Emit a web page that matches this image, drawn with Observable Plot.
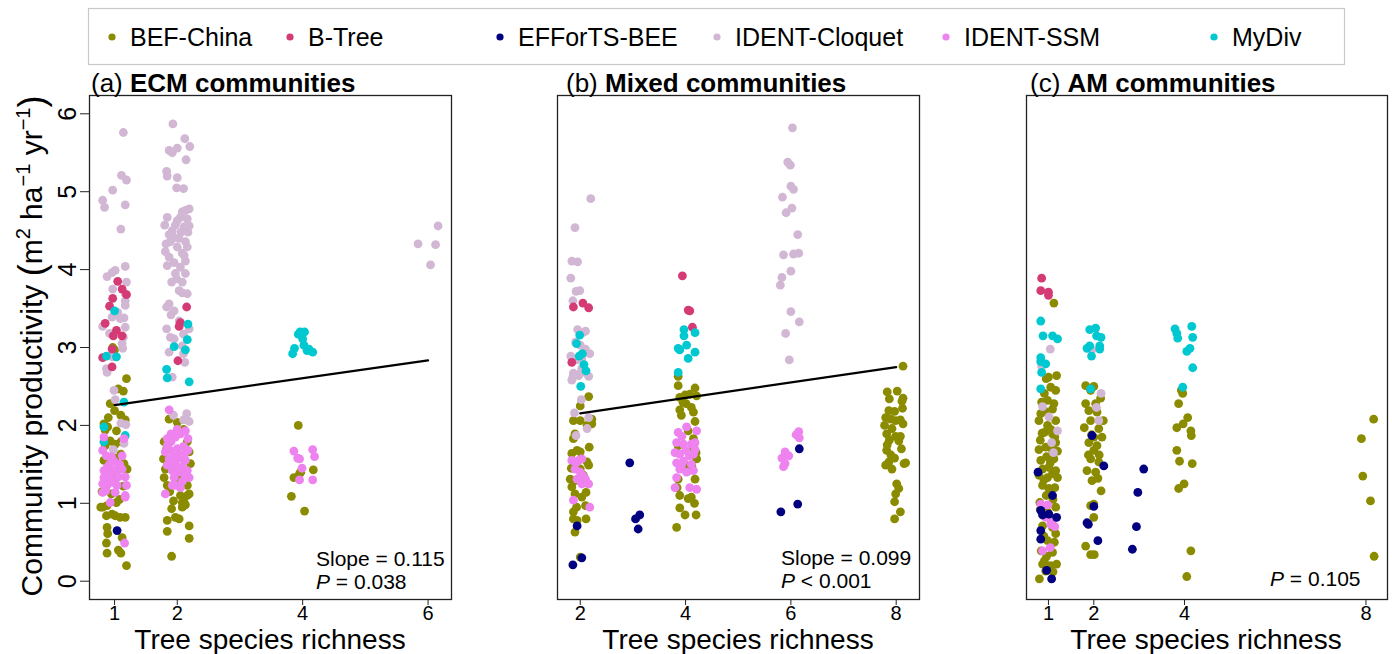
<!DOCTYPE html>
<html><head><meta charset="utf-8">
<script src="https://cdn.jsdelivr.net/npm/d3@7"></script>
<script src="https://cdn.jsdelivr.net/npm/@observablehq/plot@0.6"></script>
<style>
body{margin:0;background:#fff;}
#root{position:relative;width:1392px;height:654px;font-family:"Liberation Sans",Arial,Helvetica,sans-serif;overflow:hidden;background:#fff;}
.panel{position:absolute;top:60px;}
#overlay{position:absolute;left:0;top:0;pointer-events:none;}
</style></head><body><div id="root"></div>
<script>
// ---------- categories & styling ----------
const sets = ["BEF-China","B-Tree","EFForTS-BEE","IDENT-Cloquet","IDENT-SSM","MyDiv"];
const setColors = ["#8b8b00","#d43a74","#000080","#d2b7d4","#ee82ee","#00c8d0"];
const drawOrder = ["BEF-China","IDENT-Cloquet","B-Tree","MyDiv","IDENT-SSM","EFForTS-BEE"];
const yTicks = [0,1,2,3,4,5,6];
const xTicksA = [1,2,4,6], xTicksB = [2,4,6,8], xTicksC = [1,2,4,8];

// ---------- (a) ECM communities : [richness (jittered), productivity] ----------
const ecm_bef = [[0.97,3.0],[1.0,2.97],[1.19,2.60],[1.06,2.47],[1.14,2.44],[0.93,2.28],[1.0,2.19],[1.10,2.13],[1.17,2.07],[0.83,2.02],[0.89,1.98],[0.85,1.94],[1.03,1.93],[0.93,1.80],[0.85,1.74],[1.01,1.76],[1.10,1.79],[1.10,1.63],[1.01,1.58],[1.20,1.44],[1.15,1.51],[0.93,1.42],[1.03,1.33],[0.81,0.95],[0.88,0.97],[1.03,1.01],[0.96,0.86],[0.87,0.84],[1.17,0.82],[1.09,0.82],[1.01,0.84],[0.88,0.69],[0.89,0.61],[1.12,0.56],[0.87,0.49],[1.06,0.40],[0.88,0.36],[1.10,0.36],[1.19,0.20],[0.83,1.55],[0.87,1.30],[0.78,0.95],[0.95,1.12],[1.14,1.22],[0.90,2.10],[1.08,1.05],[0.80,1.15],
 [1.87,2.08],[2.0,2.04],[1.79,1.79],[1.78,1.57],[1.81,1.44],[2.16,1.79],[2.19,1.66],[2.21,1.51],[2.13,1.40],[2.05,1.10],[2.16,1.10],[2.11,1.01],[2.19,1.12],[2.08,0.95],[1.91,0.93],[1.84,0.78],[1.97,0.82],[2.03,0.80],[2.19,0.71],[1.84,0.64],[2.19,0.55],[1.91,0.32],[1.84,1.23],[1.79,1.33],[2.08,1.01],[1.94,1.03],[2.16,1.23],[2.10,1.95],[1.83,1.70],[2.05,1.30],[1.88,1.15],[2.13,0.98],
 [3.93,2.0],[3.82,1.09],[4.03,0.90],[3.86,1.33],[3.97,1.40],[4.17,1.43],[3.95,1.38]];
const ecm_btree = [[1.05,3.85],[1.12,3.75],[1.19,3.68],[0.97,3.63],[0.92,3.53],[0.85,3.31],[1.03,3.22],[0.98,3.15],[1.12,3.15],[0.96,2.98],[0.81,2.87],[0.96,2.75],[2.15,3.52],[2.05,3.32],[2.03,3.27],[2.01,2.83]];
const ecm_efforts = [[1.04,0.65]];
const ecm_cloquet = [[1.14,5.76],[0.81,4.89],[0.84,4.80],[0.97,5.02],[1.11,5.21],[1.19,5.15],[1.17,4.83],[1.10,4.52],[1.17,4.04],[1.01,3.99],[0.96,3.96],[0.88,3.91],[1.19,3.84],[0.97,3.75],[1.17,3.69],[1.17,3.60],[1.17,3.54],[0.96,3.39],[1.09,3.37],[1.15,3.38],[0.81,3.27],[1.17,3.26],[1.14,3.13],[1.13,2.99],[0.97,2.88],[0.87,2.73],[0.99,2.45],[1.01,2.33],[1.10,2.03],[1.18,2.01],[0.98,1.69],[1.15,1.77],[1.05,3.45],[1.12,3.05],[0.92,3.18],[0.88,2.68],
 [1.93,5.87],[2.12,5.68],[2.20,5.58],[2.0,5.56],[1.87,5.53],[1.92,5.50],[2.14,5.41],[1.83,5.26],[1.84,5.20],[2.0,5.18],[2.10,5.04],[1.99,5.05],[2.19,4.78],[2.13,4.76],[2.08,4.74],[1.84,4.67],[2.0,4.63],[2.16,4.65],[1.97,4.57],[1.80,4.57],[2.11,4.55],[2.19,4.56],[1.87,4.45],[2.06,4.48],[1.95,4.41],[1.82,4.33],[1.89,4.36],[2.13,4.36],[2.0,4.29],[1.81,4.23],[2.08,4.21],[1.87,4.16],[2.11,4.18],[1.84,4.05],[2.05,4.03],[2.13,4.11],[1.97,3.95],[2.13,3.95],[1.91,3.84],[1.99,3.88],[2.08,3.70],[2.16,3.69],[1.87,3.56],[1.83,3.52],[1.95,3.47],[1.90,3.42],[1.83,3.24],[2.03,3.34],[1.89,3.13],[1.95,3.11],[2.19,3.24],[2.10,3.17],[2.08,3.02],[1.87,2.94],[2.10,2.92],[2.12,2.81],[1.92,2.62],[2.05,4.67],[1.92,4.50],[2.17,4.48],[2.03,4.40],[2.16,4.29],[1.95,4.09],[2.08,3.84],[2.03,3.73],
 [1.94,2.13],[2.15,2.15],[2.10,2.07],[2.19,2.05],
 [5.84,4.33],[6.04,4.06],[6.12,4.32],[6.16,4.56]];
const ecm_ssm = [[0.83,1.85],[1.15,1.83],[0.81,1.68],[0.87,1.61],[1.12,1.61],[0.99,1.54],[0.88,1.46],[0.83,1.42],[0.99,1.42],[1.12,1.44],[1.04,1.44],[0.83,1.33],[0.93,1.33],[1.06,1.34],[1.17,1.34],[0.81,1.25],[0.88,1.23],[1.04,1.23],[1.19,1.23],[0.86,1.16],[1.01,1.14],[1.17,1.10],[0.81,1.14],[0.93,1.01],[1.17,1.08],[1.16,0.49],[0.92,1.50],[0.96,1.27],[0.90,1.40],[1.08,1.50],[0.95,1.60],
 [1.87,2.20],[1.84,1.83],[1.90,1.79],[2.05,1.89],[2.13,1.93],[1.97,1.85],[1.81,1.66],[1.89,1.68],[2.0,1.70],[2.10,1.73],[2.17,1.68],[1.87,1.57],[1.95,1.60],[2.05,1.58],[2.13,1.55],[1.84,1.49],[1.97,1.51],[2.08,1.47],[1.92,1.42],[2.03,1.40],[2.16,1.42],[1.95,1.33],[2.08,1.28],[2.19,1.33],[1.97,1.23],[2.05,1.20],[1.81,1.12],[1.90,1.89],[2.0,1.95],[2.17,1.83],[1.84,1.74],[2.11,1.63],[1.92,1.23],[2.02,1.62],[1.93,1.52],[2.0,1.45],[2.12,1.37],
 [3.86,1.67],[3.92,1.58],[3.95,1.57],[3.99,1.45],[3.95,1.30],[4.16,1.69],[4.19,1.60],[4.16,1.30]];
const ecm_mydiv = [[1.0,3.47],[0.87,2.89],[1.03,2.88],[1.15,2.30],[0.83,1.98],[1.17,1.87],[0.83,1.79],[2.17,3.30],[1.95,3.01],[2.16,3.10],[2.13,2.97],[1.83,2.72],[1.84,2.61],[2.19,2.56],[3.84,2.92],[3.87,2.99],[3.96,3.20],[4.03,3.20],[4.0,3.11],[4.07,2.96],[4.16,2.94],[4.02,3.03],[4.10,2.98],[3.93,3.17]];

// ---------- (b) Mixed communities ----------
const mix_bef = [[2.16,2.37],[2.0,2.25],[1.87,2.06],[2.0,2.06],[2.22,2.08],[2.13,2.0],[2.22,2.02],[1.90,1.89],[1.87,1.83],[1.94,1.68],[1.84,1.64],[2.0,1.66],[2.13,1.53],[2.16,1.49],[2.0,1.44],[1.81,1.31],[1.90,1.29],[1.84,1.21],[2.06,1.36],[2.11,1.14],[1.90,1.12],[2.03,1.08],[1.87,0.89],[2.10,0.97],[1.87,0.80],[1.94,0.78],[2.11,0.80],[1.90,0.63],[2.0,0.31],[2.17,1.72],[1.83,1.45],[2.13,1.26],[1.93,0.95],
 [3.86,2.63],[3.86,2.51],[4.18,2.48],[3.89,2.36],[3.99,2.39],[4.08,2.40],[4.21,2.38],[4.01,2.28],[4.11,2.23],[3.89,2.20],[4.15,2.17],[4.18,2.05],[3.92,2.13],[4.05,1.93],[4.15,1.83],[4.21,1.57],[3.99,1.50],[4.18,1.31],[3.86,1.31],[3.89,1.10],[4.05,1.06],[4.11,1.08],[3.89,0.94],[3.99,0.85],[4.20,0.85],[3.83,0.69],[3.86,1.74],[4.15,1.71],[4.05,1.42],[4.2,1.65],[3.84,1.20],[4.17,1.0],[3.95,2.30],[4.12,1.48],
 [8.13,2.76],[7.83,2.43],[8.02,2.44],[8.13,2.35],[7.87,2.34],[8.11,2.31],[7.86,2.19],[7.97,2.18],[7.80,2.10],[7.90,2.08],[7.99,2.06],[8.08,2.07],[8.13,2.02],[7.78,2.0],[7.92,1.96],[7.82,1.89],[7.99,1.86],[8.08,1.86],[7.87,1.81],[8.05,1.80],[8.10,1.70],[7.82,1.68],[7.90,1.62],[7.97,1.58],[7.86,1.53],[7.80,1.49],[8.15,1.51],[7.92,1.44],[8.01,1.25],[8.05,1.19],[7.99,1.12],[7.97,1.02],[8.08,0.89],[7.97,0.80],[8.18,1.52],[7.83,1.75],[8.12,2.22]];
const mix_btree = [[1.87,3.52],[2.05,3.57],[2.16,3.51],[1.84,2.81],[3.94,3.92],[4.08,3.47],[4.05,3.48],[4.13,3.26]];
const mix_efforts = [[1.94,0.71],[1.86,0.21],[2.03,0.30],[2.94,1.52],[3.05,0.80],[3.13,0.85],[3.10,0.67],[6.16,1.70],[5.81,0.89],[6.13,0.99]];
const mix_cloquet = [[2.20,4.91],[1.90,4.54],[1.84,4.11],[1.95,4.10],[1.82,3.89],[1.92,3.72],[1.99,3.73],[1.86,3.60],[1.95,3.23],[2.10,3.21],[2.05,3.19],[1.91,3.07],[2.0,3.03],[2.10,2.98],[2.18,2.92],[1.82,2.89],[2.03,2.86],[1.94,2.84],[1.87,2.67],[1.97,2.64],[2.10,2.68],[2.16,2.63],[1.84,2.58],[2.03,2.73],[2.02,2.33],[1.89,2.16],[2.16,2.10],[2.13,1.96],[1.92,1.87],[1.86,2.62],[1.99,2.66],[2.08,2.70],
 [6.03,5.82],[5.94,5.38],[5.99,5.34],[6.0,5.07],[6.05,5.03],[5.84,4.93],[5.91,4.73],[6.02,4.79],[6.13,4.45],[5.86,4.19],[6.05,4.20],[6.15,4.21],[5.83,3.90],[5.80,3.80],[6.0,3.98],[6.0,3.46],[6.16,3.33],[5.90,3.18],[5.97,2.84]];
const mix_ssm = [[1.84,1.55],[1.97,1.55],[2.03,1.57],[1.90,1.44],[2.0,1.40],[1.94,1.31],[2.10,1.31],[2.16,1.25],[2.03,1.25],[1.87,1.04],[2.18,0.95],[1.92,1.52],[2.06,1.35],
 [4.02,1.98],[4.21,1.93],[3.86,1.91],[3.83,1.78],[3.96,1.76],[4.11,1.76],[4.18,1.78],[3.80,1.65],[3.89,1.63],[4.07,1.61],[4.15,1.63],[3.83,1.52],[3.96,1.54],[4.11,1.50],[3.89,1.44],[4.02,1.40],[4.15,1.42],[3.83,1.33],[3.80,1.20],[4.08,1.20],[4.21,1.18],[4.18,1.69],[3.93,1.86],[4.0,1.68],[3.92,1.48],
 [6.15,1.92],[6.16,1.84],[6.10,1.88],[5.89,1.66],[5.96,1.61],[5.83,1.58],[5.89,1.51],[5.86,1.47]];
const mix_mydiv = [[1.99,3.16],[1.98,2.89],[2.04,2.92],[2.11,2.70],[2.01,2.50],[1.93,3.05],[2.07,2.78],
 [3.97,3.23],[4.18,3.19],[3.97,3.15],[4.02,3.03],[3.86,2.99],[3.89,2.97],[4.18,2.94],[4.05,2.86],[3.86,2.68]];

// ---------- (c) AM communities ----------
const am_bef = [[1.12,3.57],[1.18,2.64],[1.0,2.62],[0.95,2.60],[1.05,2.49],[0.91,2.41],[1.16,2.45],[0.98,2.32],[0.83,2.15],[1.09,2.21],[1.16,2.06],[0.79,2.06],[0.98,2.0],[0.91,1.91],[1.09,1.89],[0.82,1.81],[1.16,1.78],[0.94,1.72],[0.79,1.69],[1.09,1.68],[1.20,1.67],[1.01,1.46],[0.87,1.44],[1.16,1.42],[0.79,1.36],[0.98,1.33],[1.09,1.38],[1.20,1.33],[0.87,1.23],[1.01,1.19],[0.81,1.01],[1.16,0.95],[0.98,0.89],[0.87,0.71],[1.09,0.69],[1.16,0.61],[0.98,0.52],[0.84,0.39],[1.09,0.37],[0.87,0.22],[1.05,0.20],[0.80,0.03],[0.94,0.13],[1.18,0.22],[0.91,0.26],[0.85,2.30],[1.12,2.28],[0.93,2.18],[1.05,1.95],[0.86,1.90],[1.14,1.85],[0.96,1.60],[1.12,1.57],[0.83,1.55],[1.04,1.52],[0.90,1.30],[1.14,1.20],[0.95,1.10],[1.10,1.05],[0.82,0.92],[1.05,0.80],[0.90,0.58],[1.13,0.50],[0.96,0.32],[1.10,0.12],
 [1.82,2.51],[2.0,2.50],[1.93,2.45],[1.82,2.28],[2.04,2.28],[1.89,2.19],[2.07,2.17],[1.93,2.06],[1.79,1.97],[2.21,2.06],[2.11,1.96],[2.0,1.85],[2.18,1.85],[1.89,1.78],[2.07,1.74],[2.0,1.68],[1.93,1.57],[2.11,1.53],[1.85,1.42],[2.04,1.40],[1.96,1.29],[2.16,1.16],[2.0,0.99],[1.93,0.97],[2.0,0.82],[1.82,0.45],[1.93,0.34],[2.01,0.34],[2.12,1.62],[1.95,1.88],[2.15,2.35],[1.88,1.62],[2.09,1.32],
 [3.93,2.45],[3.96,2.41],[3.87,2.28],[4.07,2.10],[3.97,2.02],[3.83,1.97],[4.14,1.93],[4.15,1.87],[3.83,1.68],[3.89,1.54],[4.17,1.51],[3.99,1.25],[3.87,1.19],[4.14,0.39],[4.05,0.06],
 [8.17,2.08],[7.90,1.83],[7.93,1.35],[8.10,1.03],[8.18,0.32]];
const am_btree = [[0.85,3.89],[0.83,3.73],[1.0,3.71],[1.0,3.67]];
const am_efforts = [[0.77,1.40],[1.09,1.10],[0.87,0.85],[1.18,0.82],[1.01,0.86],[0.83,0.65],[0.83,0.54],[0.96,0.14],[1.07,0.03],[0.83,0.91],
 [2.22,1.48],[1.85,0.75],[1.88,0.73],[2.09,0.52],[2.0,0.96],[1.96,1.87],
 [3.10,1.44],[2.97,1.14],[2.94,0.70],[2.85,0.41]];
const am_cloquet = [[1.04,2.98],[0.85,2.76],[0.87,2.24],[1.01,2.11],[1.20,1.93],[1.07,1.78],[1.11,1.65],[1.96,2.97],[2.16,2.41],[2.06,2.23],[2.11,2.06]];
const am_ssm = [[0.83,0.99],[0.98,0.98],[0.94,0.82],[1.05,0.73],[1.14,0.70],[0.87,0.39],[1.04,0.43],[1.08,0.76]];
const am_mydiv = [[0.83,3.34],[0.88,3.15],[1.09,3.15],[1.20,3.11],[0.83,2.87],[0.83,2.82],[0.94,2.79],[0.85,2.68],[0.83,2.47],
 [1.91,3.23],[2.04,3.25],[2.06,3.15],[2.16,3.13],[1.85,2.99],[1.91,3.02],[2.13,3.02],[2.13,2.98],[1.95,2.89],[1.93,2.47],
 [3.79,3.24],[3.83,3.18],[3.85,3.12],[4.16,3.27],[4.18,3.13],[4.12,2.99],[4.05,2.95],[4.18,2.74],[3.96,2.49]];

// ---------- fitted lines (start richness, end richness, intercept at start, slope) ----------
const fitA = {from: 1, to: 6, y0: 2.26, slope: 0.115};
const fitB = {from: 2, to: 8, y0: 2.155, slope: 0.099};

// ---------- texts ----------
const legendX = [112, 290, 500, 717, 946, 1214];
const panelTitles = [["(a) ","ECM communities"],["(b) ","Mixed communities"],["(c) ","AM communities"]];
const statsA = ["Slope = 0.115", "= 0.038"];
const statsB = ["Slope = 0.099", "< 0.001"];
const statsC = ["", "= 0.105"];

function rows(bySet){
  const out=[];
  for(const s of drawOrder) for(const [x,y] of (bySet[s]||[])) out.push({x,y,set:s});
  return out;
}
function fitRows(f){ return f ? [f.from,f.to].map(x=>({x, y: f.y0 + f.slope*(x-f.from)})) : []; }

const dataA = rows({"BEF-China":ecm_bef,"B-Tree":ecm_btree,"EFForTS-BEE":ecm_efforts,"IDENT-Cloquet":ecm_cloquet,"IDENT-SSM":ecm_ssm,"MyDiv":ecm_mydiv});
const dataB = rows({"BEF-China":mix_bef,"B-Tree":mix_btree,"EFForTS-BEE":mix_efforts,"IDENT-Cloquet":mix_cloquet,"IDENT-SSM":mix_ssm,"MyDiv":mix_mydiv});
const dataC = rows({"BEF-China":am_bef,"B-Tree":am_btree,"EFForTS-BEE":am_efforts,"IDENT-Cloquet":am_cloquet,"IDENT-SSM":am_ssm,"MyDiv":am_mydiv});

const FONT = '"Liberation Sans", Arial, Helvetica, sans-serif';
const yDomain = [-0.235, 6.235];
const intFmt = d3.format("d");
const root = document.getElementById("root");

function makePanel({left, width, ml, mr, xDomain, xTicks, data, fit, yAxis}){
  const marks = [
    Plot.frame({stroke:"#222", strokeWidth:1.3}),
    Plot.dot(data, {x:"x", y:"y", fill:"set", r:4.4}),
    Plot.line(fitRows(fit), {x:"x", y:"y", stroke:"black", strokeWidth:2.2}),
    Plot.axisX({ticks:xTicks, tickFormat:intFmt, tickSize:6, tickPadding:0, fontSize:20, label:null, stroke:"#222"})
  ];
  if (yAxis) marks.push(Plot.axisY({ticks:yTicks, tickFormat:intFmt, tickSize:9, tickRotate:-90, tickPadding:5, fontSize:25, label:null, stroke:"#222"}));
  const p = Plot.plot({
    width, height:594, marginLeft:ml, marginRight:mr, marginTop:35, marginBottom:55,
    x:{domain:xDomain},
    y:{domain:yDomain, axis: yAxis ? undefined : null},
    color:{domain:sets, range:setColors},
    style:{fontFamily:FONT, color:"#000", background:"transparent", overflow:"visible"},
    marks
  });
  p.classList.add("panel");
  p.style.left = left + "px";
  root.appendChild(p);
}

makePanel({left:0, width:470, ml:89, mr:19, xDomain:[0.6,6.374], xTicks:xTicksA, data:dataA, fit:fitA, yAxis:true});
makePanel({left:480, width:460, ml:77, mr:21, xDomain:[1.568,8.443], xTicks:xTicksB, data:dataB, fit:fitB, yAxis:false});
makePanel({left:950, width:442, ml:76, mr:5, xDomain:[0.516,8.475], xTicks:xTicksC, data:dataC, fit:null, yAxis:false});

// ---------- overlay: legend, titles, axis titles, statistics ----------
const svg = d3.create("svg").attr("id","overlay").attr("width",1392).attr("height",654)
  .style("font-family", FONT);
svg.append("rect").attr("x",88.5).attr("y",8.5).attr("width",1256).attr("height",56)
  .attr("fill","none").attr("stroke","#c8c8c8").attr("stroke-width",1.2);
sets.forEach((s,i)=>{
  svg.append("circle").attr("cx",legendX[i]).attr("cy",37).attr("r",3.6).attr("fill",setColors[i]);
  svg.append("text").attr("x",legendX[i]+18).attr("y",46).attr("font-size",25).text(s);
});
[91,566,1030].forEach((x,i)=>{
  const t = svg.append("text").attr("x",x).attr("y",92).attr("font-size",26);
  t.append("tspan").text(panelTitles[i][0]);
  t.append("tspan").attr("font-weight","bold").text(panelTitles[i][1]);
});
[270,738,1206].forEach(cx=>{
  svg.append("text").attr("x",cx).attr("y",649).attr("text-anchor","middle").attr("font-size",28).text("Tree species richness");
});
const yl = svg.append("text").attr("transform","translate(42,346) rotate(-90)").attr("text-anchor","middle").attr("font-size",30);
yl.append("tspan").text("Community productivity ");
yl.append("tspan").attr("font-size",36).attr("dy",2).text("(");
yl.append("tspan").attr("dy",-2).text("m");
yl.append("tspan").attr("font-size",20).attr("dy",-12).text("2");
yl.append("tspan").attr("dy",12).text(" ha");
yl.append("tspan").attr("font-size",20).attr("dy",-12).text("\u22121");
yl.append("tspan").attr("dy",12).text(" yr");
yl.append("tspan").attr("font-size",20).attr("dy",-12).text("\u22121");
yl.append("tspan").attr("font-size",36).attr("dy",14).text(")");
function stats(x, y1, y2, st){
  if (st[0]) svg.append("text").attr("x",x).attr("y",y1).attr("font-size",21).text(st[0]);
  const t = svg.append("text").attr("x",x).attr("y",y2).attr("font-size",21);
  t.append("tspan").attr("font-style","italic").text("P");
  t.append("tspan").text(" " + st[1]);
}
stats(316,566,589,statsA);
stats(781,565,588,statsB);
stats(1270,null,586,statsC);
root.appendChild(svg.node());
</script></body></html>
